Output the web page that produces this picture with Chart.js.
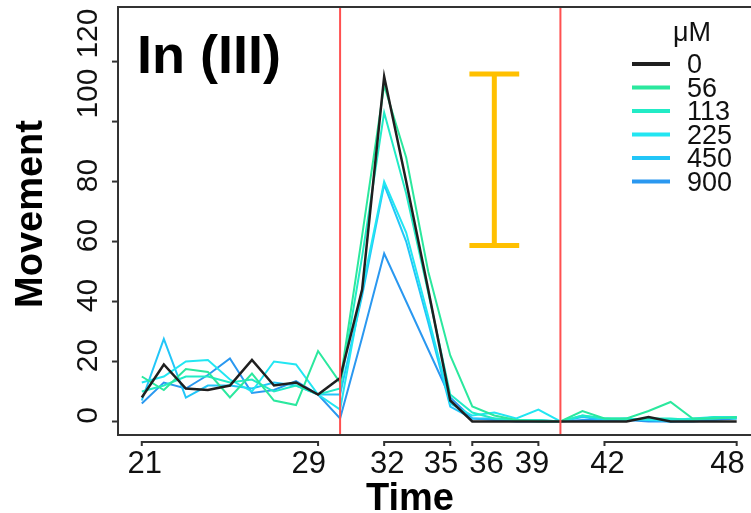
<!DOCTYPE html>
<html>
<head>
<meta charset="utf-8">
<script src="https://cdn.jsdelivr.net/npm/chart.js@4.4.0/dist/chart.umd.min.js"></script>
<style>
  html, body { margin: 0; padding: 0; background: #fff; }
  #wrap { width: 751px; height: 513px; }
</style>
</head>
<body>
<div id="wrap"><canvas id="grafico" width="751" height="513"></canvas></div>
<script>
// time points (x), one value per series per time point
const times = [21, 22, 23, 24, 25, 26, 27, 28, 29, 30, 31, 32, 33, 34, 35, 36, 37, 38, 39, 40, 41, 42, 43, 44, 45, 46, 47, 48];

const doses = ['0', '56', '113', '225', '450', '900'];
const doseColors = ['#1f1f1f', '#2be89e', '#22ebc6', '#22e6f2', '#22c6f8', '#2a98f0'];

const mov0   = [8, 19, 11, 10.5, 12, 20.5, 12, 13, 9, 14.5, 44, 115, 80, 44, 7, 0, 0, 0, 0, 0, 0, 0, 0, 1.5, 0, 0, 0, 0];
const mov56  = [15, 10.5, 17.5, 16.5, 8, 16, 7, 5.5, 23.5, 13, 62, 112, 88, 50, 22, 5, 2, 0.5, 0, 0, 3.5, 1, 1, 3.5, 6.5, 1, 1, 1.5];
const mov113 = [10, 12, 15, 15, 13, 14, 10, 12, 9, 11, 55, 103, 76, 43, 9, 3, 1, 0.5, 0.5, 0, 2, 1, 0.5, 1, 1, 0.5, 1.5, 1];
const mov225 = [13, 15, 20, 20.5, 14, 10, 20, 19, 9, 4, 44, 80, 63, 35, 6, 2, 3, 1, 4, 0, 2, 1, 1, 0.5, 0.5, 1, 1.5, 1.5];
const mov450 = [7, 27.5, 8, 12, 12, 11, 13, 12, 9, 9, 42, 79, 60, 33, 5, 1, 1, 0.5, 0.5, 0, 1.5, 0.5, 1, 0.5, 0, 0.5, 1, 1.5];
const mov900 = [6, 13, 11, 15.5, 21, 9.5, 10.5, 13.5, 9, 1, 28, 56, 40, 24, 8, 1, 0.5, 0, 0, 0, 0.5, 0.5, 0.5, 0, 0, 0, 0.5, 1];
const series = [mov0, mov56, mov113, mov225, mov450, mov900];

const yTicks = [0, 20, 40, 60, 80, 100, 120];
const xSegments = [[21, 29], [32, 35], [36, 39], [42, 48]];
const stimLines = [30, 40];

// scale bar (orange I)
const barTime = 37, barLow = 58.7, barHigh = 115.9, barCapHalf = 1.13;

const decor = {
  id: 'decor',
  afterDatasetsDraw(chart) {
    const ctx = chart.ctx;
    const xs = chart.scales.x, ys = chart.scales.y;
    const a = chart.chartArea;
    ctx.save();

    // red lines
    ctx.strokeStyle = '#ff5050';
    ctx.lineWidth = 2;
    stimLines.forEach(t => {
      const px = xs.getPixelForValue(t);
      ctx.beginPath();
      ctx.moveTo(px, a.top);
      ctx.lineTo(px, a.bottom);
      ctx.stroke();
    });

    // scale bar
    ctx.strokeStyle = '#ffc000';
    ctx.lineWidth = 5;
    const bx = xs.getPixelForValue(barTime);
    const b1 = xs.getPixelForValue(barTime - barCapHalf);
    const b2 = xs.getPixelForValue(barTime + barCapHalf);
    const yl = ys.getPixelForValue(barLow), yh = ys.getPixelForValue(barHigh);
    ctx.beginPath();
    ctx.moveTo(bx, yl); ctx.lineTo(bx, yh);
    ctx.moveTo(b1, yl); ctx.lineTo(b2, yl);
    ctx.moveTo(b1, yh); ctx.lineTo(b2, yh);
    ctx.stroke();

    // box (right side is cut off)
    ctx.strokeStyle = '#333';
    ctx.lineWidth = 2;
    ctx.beginPath();
    ctx.moveTo(a.right + 5, a.top);
    ctx.lineTo(a.left, a.top);
    ctx.lineTo(a.left, a.bottom);
    ctx.lineTo(a.right + 5, a.bottom);
    ctx.stroke();

    // y axis ticks + labels (3-digit labels sit higher, as in the original)
    ctx.fillStyle = '#111';
    ctx.font = '30px "Liberation Sans", Arial, sans-serif';
    yTicks.forEach(v => {
      const py = ys.getPixelForValue(v);
      ctx.beginPath();
      ctx.moveTo(a.left - 6, py);
      ctx.lineTo(a.left, py);
      ctx.stroke();
      const txt = String(v);
      ctx.save();
      ctx.translate(a.left - 21, py - (txt.length > 2 ? 28 : 6));
      ctx.rotate(-Math.PI / 2);
      ctx.textAlign = 'center';
      ctx.textBaseline = 'alphabetic';
      ctx.fillText(txt, 0, 0);
      ctx.restore();
    });

    // x axis segments + labels
    ctx.font = '31px "Liberation Sans", Arial, sans-serif';
    ctx.textBaseline = 'alphabetic';
    ctx.textAlign = 'left';
    const yb = a.bottom + 7;
    let lastRight = -Infinity;
    xSegments.forEach(seg => {
      const p1 = xs.getPixelForValue(seg[0]);
      const p2 = xs.getPixelForValue(seg[1]);
      ctx.beginPath();
      ctx.moveTo(p1, yb + 4); ctx.lineTo(p1, yb); ctx.lineTo(p2, yb); ctx.lineTo(p2, yb + 4);
      ctx.stroke();
      const t1 = String(seg[0]), t2 = String(seg[1]);
      const w1 = ctx.measureText(t1).width, w2 = ctx.measureText(t2).width;
      const left1 = Math.max(p1 + 3 - w1 / 2, lastRight + 11);
      ctx.fillText(t1, left1, a.bottom + 38);
      const left2 = Math.max(p2 + 8 - w2, left1 + w1 + 11);
      ctx.fillText(t2, left2, a.bottom + 38);
      lastRight = left2 + w2;
    });

    // axis titles
    ctx.fillStyle = '#000';
    ctx.font = 'bold 38px "Liberation Sans", Arial, sans-serif';
    ctx.textAlign = 'center';
    ctx.fillText('Time', 410, 510);
    ctx.save();
    ctx.translate(42, 214);
    ctx.rotate(-Math.PI / 2);
    ctx.fillText('Movement', 0, 0);
    ctx.restore();

    // panel title
    ctx.font = 'bold 54px "Liberation Sans", Arial, sans-serif';
    ctx.textAlign = 'left';
    ctx.fillText('In (III)', 137, 73);

    // legend
    ctx.fillStyle = '#111';
    ctx.font = '27px "Liberation Sans", Arial, sans-serif';
    ctx.textAlign = 'center';
    ctx.fillText('μM', 692, 41);
    ctx.textAlign = 'left';
    ctx.textBaseline = 'middle';
    ctx.lineWidth = 4;
    doses.forEach((d, i) => {
      const ly = 64 + i * 23.5;
      ctx.strokeStyle = doseColors[i];
      ctx.beginPath();
      ctx.moveTo(632, ly);
      ctx.lineTo(670, ly);
      ctx.stroke();
      ctx.fillText(d, 687, ly + 2);
    });

    ctx.restore();
  }
};

new Chart(document.getElementById('grafico'), {
  type: 'line',
  data: {
    datasets: series.map((s, i) => ({
      label: doses[i],
      data: s.map((v, k) => ({ x: times[k], y: v })),
      borderColor: doseColors[i],
      borderWidth: i === 0 ? 2.5 : 2,
      pointRadius: 0,
      tension: 0,
      fill: false
    }))
  },
  options: {
    responsive: false,
    animation: false,
    devicePixelRatio: 1,
    layout: { padding: { left: 118, top: 7, right: 0, bottom: 78 } },
    plugins: { legend: { display: false }, tooltip: { enabled: false } },
    scales: {
      x: { type: 'linear', min: 19.92, max: 48.65, display: false },
      y: { min: -4.5, max: 138.2, display: false }
    }
  },
  plugins: [decor]
});
</script>
</body>
</html>
